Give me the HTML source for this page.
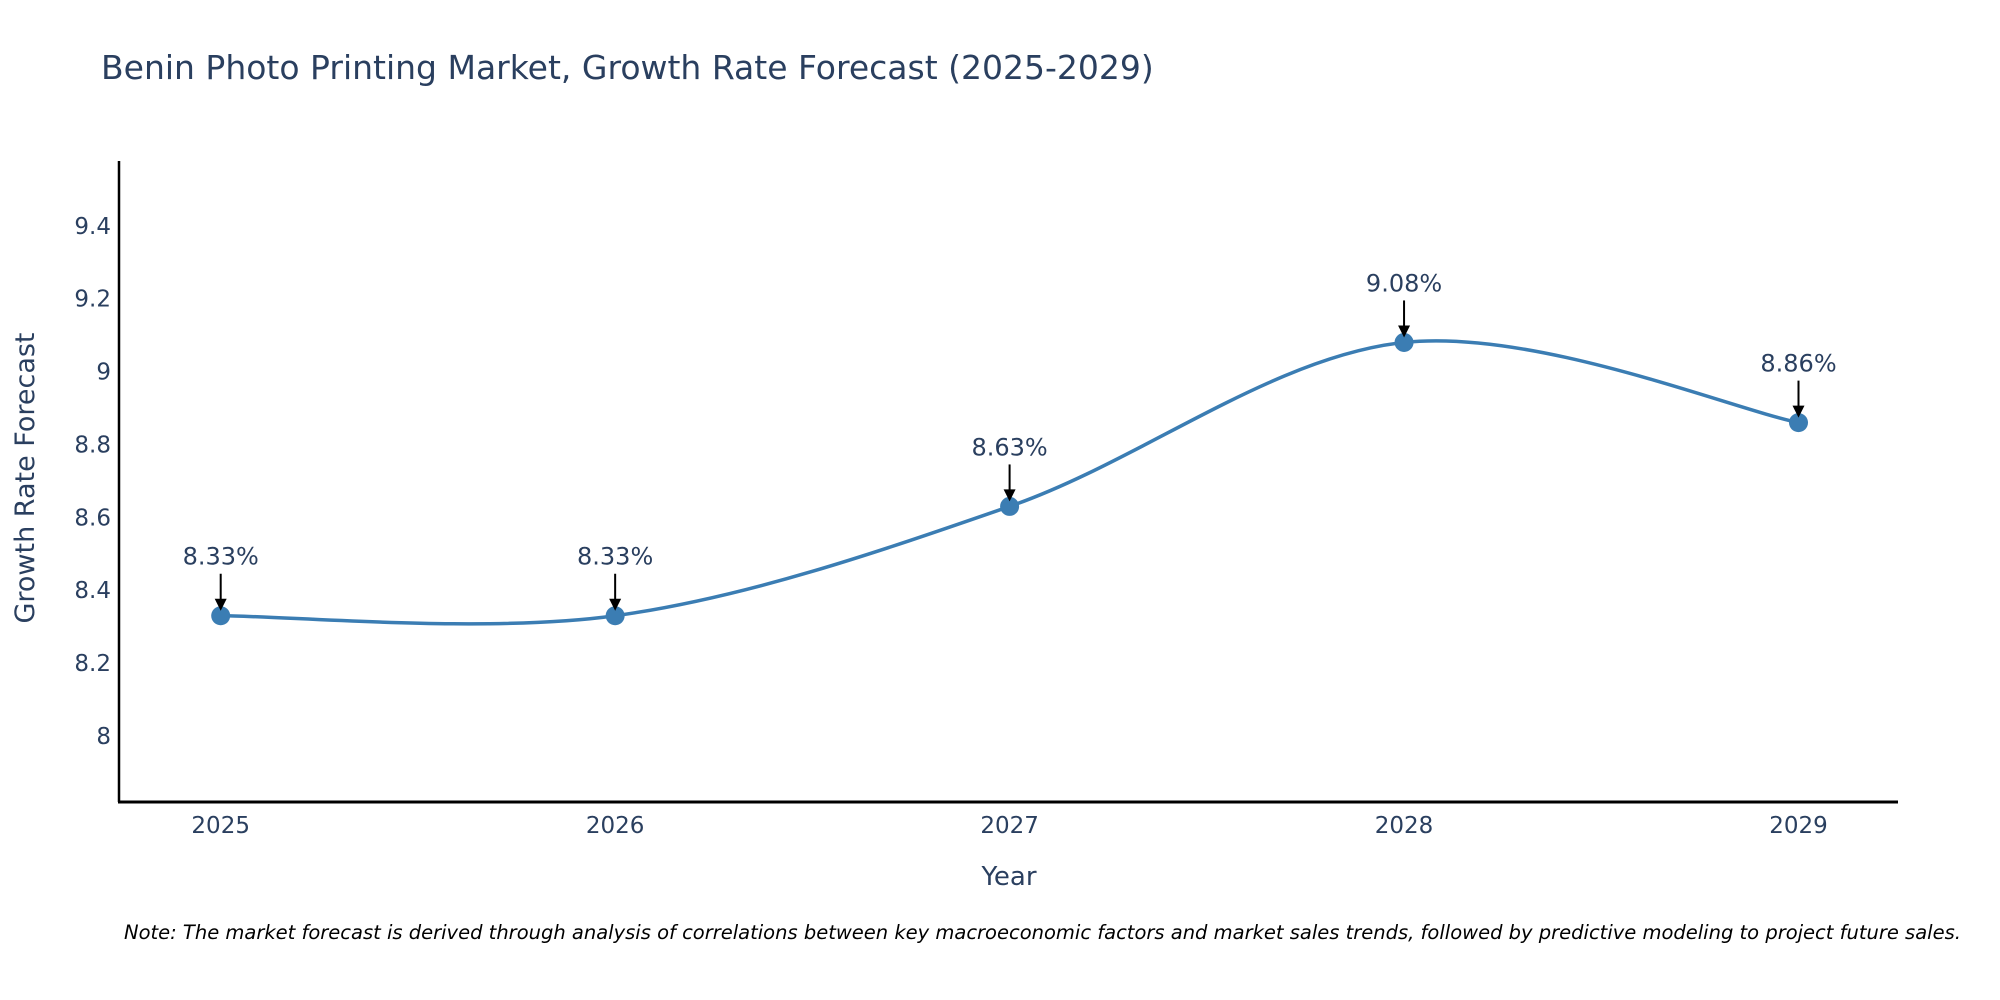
<!DOCTYPE html>
<html><head><meta charset="utf-8"><style>
body{margin:0;background:#fff;}
svg{display:block;font-family:"DejaVu Sans","Liberation Sans",sans-serif;}
</style></head><body>
<svg id="chart" width="2000" height="1000" viewBox="0 0 2000 1000" xmlns="http://www.w3.org/2000/svg">
<text x="101" y="79" font-size="33" fill="#2a3f5f">Benin Photo Printing Market, Growth Rate Forecast (2025-2029)</text>
<g id="yticks"></g><g id="xticks"></g>
<line x1="119" y1="161" x2="119" y2="802" stroke="#000" stroke-width="2.5"/>
<line x1="118" y1="802" x2="1898" y2="802" stroke="#000" stroke-width="3"/>
<path id="line" fill="none" stroke="#3b7db3" stroke-width="3.5"/>
<g id="points"></g><g id="annots"></g>
<text x="1009" y="885" font-size="26" fill="#2a3f5f" text-anchor="middle">Year</text>
<text transform="translate(34,478) rotate(-90)" font-size="27" fill="#2a3f5f" text-anchor="middle">Growth Rate Forecast</text>
<text x="124" y="939" font-size="19.5" font-style="italic" fill="#000">Note: The market forecast is derived through analysis of correlations between key macroeconomic factors and market sales trends, followed by predictive modeling to project future sales.</text>
</svg>
<script>
const years=[2025,2026,2027,2028,2029];
const values=[8.33,8.33,8.63,9.08,8.86];
const yTicks=[8,8.2,8.4,8.6,8.8,9,9.2,9.4];
const yTickLabels=["8","8.2","8.4","8.6","8.8","9","9.2","9.4"];
const NS="http://www.w3.org/2000/svg";
function xs(yr){return 220.7+(yr-2025)*(1798.5-220.7)/4;}
function ys(v){return 736-(v-8)*364.4;}
function mk(tag,attrs,parent){const e=document.createElementNS(NS,tag);for(const k in attrs)e.setAttribute(k,attrs[k]);parent.appendChild(e);return e;}
const yt=document.getElementById('yticks');
yTicks.forEach((t,i)=>{const e=mk('text',{x:111,y:ys(t)+8,'font-size':23,fill:'#2a3f5f','text-anchor':'end'},yt);


e.textContent=yTickLabels[i];});
const xt=document.getElementById('xticks');
years.forEach(y=>{const e=mk('text',{x:xs(y),y:833,'font-size':23,fill:'#2a3f5f','text-anchor':'middle'},xt);


e.textContent=y;});
const P=years.map((y,i)=>[xs(y),ys(values[i])]);
let d='M'+P[0][0]+','+P[0][1];
const s=1/6;
for(let i=0;i<P.length-1;i++){const p0=P[Math.max(i-1,0)],p1=P[i],p2=P[i+1],p3=P[Math.min(i+2,P.length-1)];
d+=' C'+(p1[0]+(p2[0]-p0[0])*s)+','+(p1[1]+(p2[1]-p0[1])*s)+' '+(p2[0]-(p3[0]-p1[0])*s)+','+(p2[1]-(p3[1]-p1[1])*s)+' '+p2[0]+','+p2[1];}
document.getElementById('line').setAttribute('d',d);
const pg=document.getElementById('points'),ag=document.getElementById('annots');
P.forEach((p,i)=>{const c=mk('circle',{cx:p[0],cy:p[1],r:9.5,fill:'#3b7db3'},pg);


const l=mk('line',{x1:p[0],y1:p[1]-42,x2:p[0],y2:p[1]-14,stroke:'#000','stroke-width':2},ag);


const h=mk('path',{d:`M${p[0]-6},${p[1]-17} L${p[0]+6},${p[1]-17} L${p[0]},${p[1]-5} Z`,fill:'#000'},ag);


const t=mk('text',{x:p[0],y:p[1]-51,'font-size':24,fill:'#2a3f5f','text-anchor':'middle'},ag);


t.textContent=values[i].toFixed(2)+'%';});
</script>
</body></html>
